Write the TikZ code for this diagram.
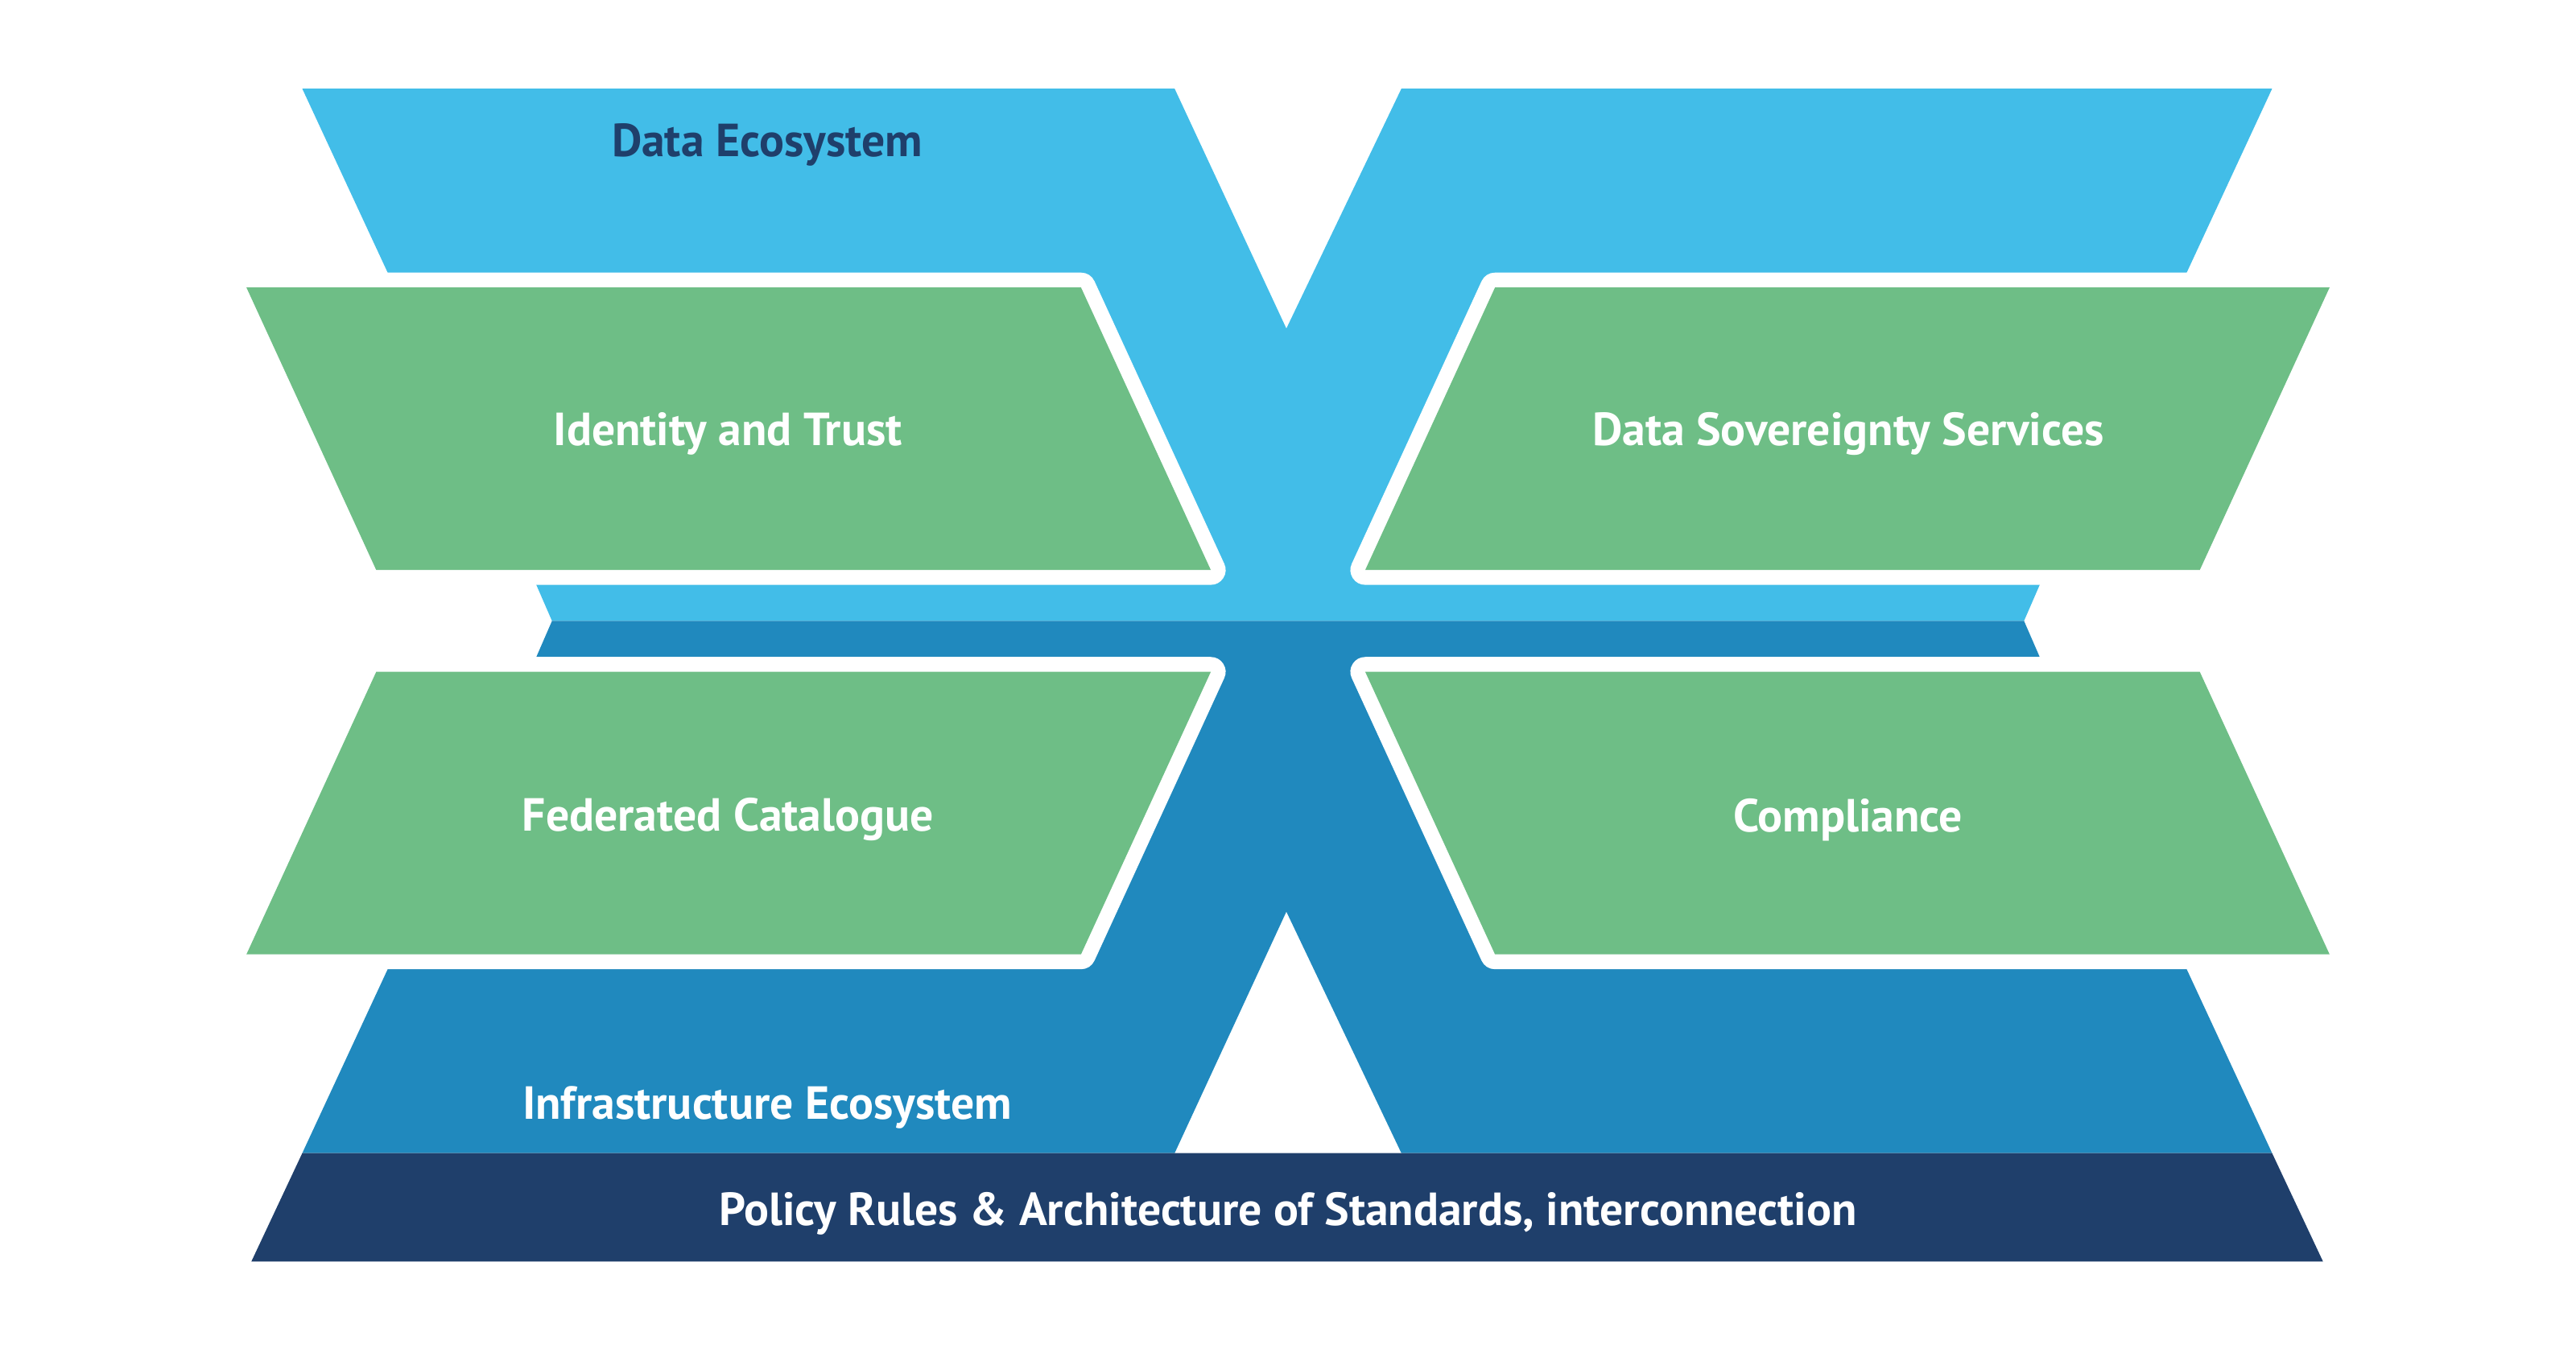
\documentclass[tikz,border=0pt]{standalone}
\usepackage{fontspec}
\setmainfont{PT Sans}
\definecolor{lblue}{RGB}{66,189,232}
\definecolor{dblue}{RGB}{32,137,190}
\definecolor{navy}{RGB}{31,63,107}
\definecolor{grn}{RGB}{110,190,134}
\begin{document}
\begin{tikzpicture}[x=0.020408cm,y=-0.020408cm,
  lab/.style={font=\bfseries\fontsize{16.4}{18}\selectfont, text=white, inner sep=0pt},
  gbox/.style={fill=grn, preaction={draw=white,line width=10.5pt,line join=round}}]
\useasboundingbox (0,0) rectangle (1568,823.2);
% data ecosystem (light blue)
\fill[lblue] (184,54) -- (715,54) -- (783,200) -- (853,54) -- (1383,54) -- (1331,166)
  -- (1200,166) -- (1200,355) -- (1242,355) -- (1232,378) -- (336,378) -- (326,355)
  -- (400,355) -- (400,166) -- (236,166) -- cycle;
% infrastructure ecosystem (dark blue)
\fill[dblue] (336,378) -- (1232,378) -- (1242,401) -- (1200,401) -- (1200,590) -- (1331,590)
  -- (1383,702) -- (853,702) -- (783,555) -- (715,702) -- (184,702) -- (236,590)
  -- (400,590) -- (400,401) -- (326,401) -- cycle;
% policy band
\fill[navy] (184,702) -- (1383,702) -- (1414,768) -- (153,768) -- cycle;
% green boxes
\path[gbox] (150,175) -- (658,175) -- (737,347) -- (229,347) -- cycle;
\path[gbox] (910,175) -- (1418,175) -- (1339,347) -- (831,347) -- cycle;
\path[gbox] (229,409) -- (737,409) -- (658,581) -- (150,581) -- cycle;
\path[gbox] (831,409) -- (1339,409) -- (1418,581) -- (910,581) -- cycle;
% labels
\node[lab, text=navy] (de) at (467,88) {Data Ecosystem};
\node[lab] (it) at (443,264) {Identity and Trust};
\node[lab] (ds) at (1125,264) {Data Sovereignty Services};
\node[lab] (fc) at (443,499) {Federated Catalogue};
\node[lab] (co) at (1125,499) {Compliance};
\node[lab] (ie) at (467,674) {Infrastructure Ecosystem};
\node[lab] (pr) at (784,739) {Policy Rules \& Architecture of Standards, interconnection};
\end{tikzpicture}
\end{document}
